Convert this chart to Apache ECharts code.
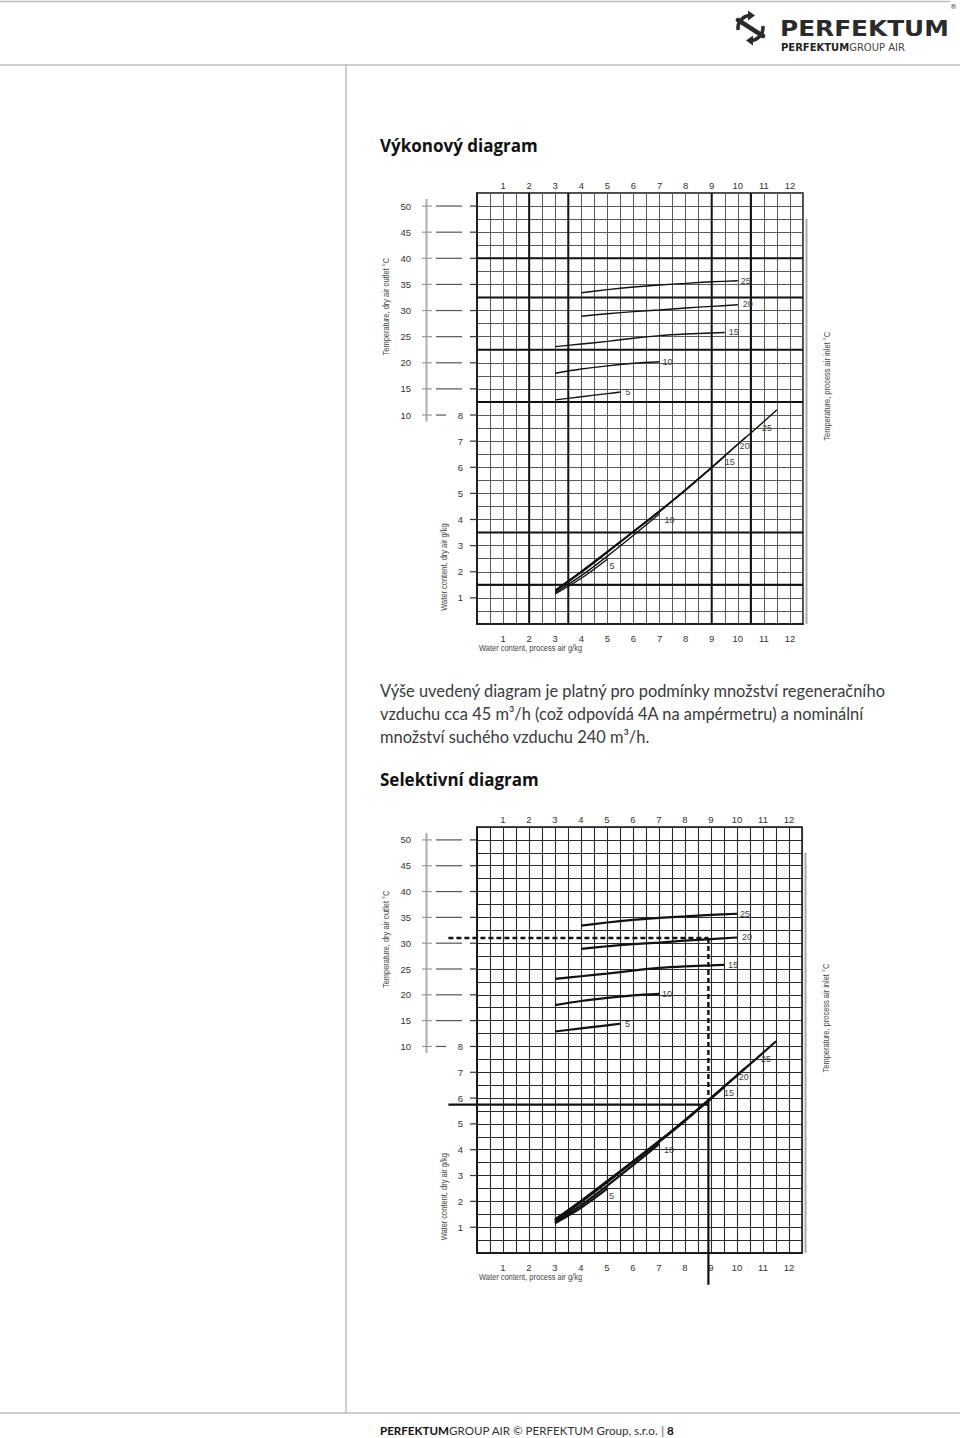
<!DOCTYPE html>
<html><head><meta charset="utf-8">
<style>html,body{margin:0;padding:0;background:#fff}#c{width:960px;height:1438px}</style>
<script src="https://cdn.jsdelivr.net/npm/echarts@6/dist/echarts.min.js"></script>
</head><body><div id="c"></div>
<script>
// ---------------- DATA ----------------
const processWaterTicks = [1,2,3,4,5,6,7,8,9,10,11,12];      // g/kg process air (x axis)
const outletTempTicks   = [10,15,20,25,30,35,40,45,50];        // °C dry air outlet (upper part)
const dryWaterTicks     = [1,2,3,4,5,6,7,8];                   // g/kg dry air (lower part)
const inletTemps        = [5,10,15,20,25];                      // °C process air inlet (curve labels)

// dry-air outlet temperature (°C) vs process-air water content (g/kg)
const outlet5  = [[3,12.9],[4,13.5],[5,14.1],[5.5,14.4]];
const outlet10 = [[3,18.0],[4,18.8],[5,19.4],[6,19.9],[7,20.2]];
const outlet15 = [[3,23.1],[4,23.6],[5,24.1],[6,24.7],[7,25.2],[8,25.5],[9,25.7],[9.5,25.8]];
const outlet20 = [[4,28.9],[5,29.4],[6,29.8],[7,30.1],[8,30.5],[9,30.8],[10,31.1]];
const outlet25 = [[4,33.4],[5,34.0],[6,34.5],[7,34.9],[8,35.2],[9,35.5],[10,35.7]];

// dry-air water content (g/kg) vs process-air water content (g/kg)
const dry5  = [[3,1.15],[4,1.75],[5,2.48]];
const dry10 = [[3,1.2],[4,1.85],[5,2.6],[6,3.4],[7,4.22]];
const dry15 = [[3,1.25],[4,1.97],[5,2.74],[6,3.52],[7,4.3],[8,5.12],[9,5.98],[9.5,6.42]];
const dry20 = [[3,1.28],[4,2.0],[5,2.76],[6,3.54],[7,4.32],[8,5.14],[9,6.0],[10,6.88],[10.3,7.15]];
const dry25 = [[3,1.3],[4,2.02],[5,2.78],[6,3.55],[7,4.33],[8,5.15],[9,6.0],[10,6.88],[11,7.75],[11.5,8.2]];

// worked example in "Selektivní diagram"
const selProcessWater  = 8.9;   // g/kg
const selOutletTemp    = 31;    // °C
const selDryWater      = 5.75;  // g/kg
const selCurveDryWater = 5.92;  // g/kg (where the reading meets the curve)
const selLineStartX    = -1.1;  // reading lines extend into the label column
const selLineEndU      = -1.23; // vertical reading line extends below the axis

// --------------- LAYOUT / STYLE ---------------
const outletSeries = [outlet5, outlet10, outlet15, outlet20, outlet25];
const drySeries    = [dry5, dry10, dry15, dry20, dry25];
const outletLabelOffset = [[0,0],[-2,0],[-1,0],[0,-1],[-2,0]];
const dryLabelOffset    = [[-3,7],[0,6],[-5,6],[-11,9],[-20,18]];
const majorX = [2,3.5,9,10.5];
const majorY = [1.5,3.5,8.5,10.5,12.5,14];
const uT = T => 8 + (T - 10) / 5;   // temperature mapped onto the shared vertical scale
const FONT = "'Liberation Sans',sans-serif";
const grids = [
  {left:477, top:193, width:326, height:431, heavy:false},
  {left:477, top:827, width:325, height:426, heavy:true}
];

const option = {animation:false, backgroundColor:'#fff',
  grid:[], xAxis:[], yAxis:[], series:[], graphic:[]};

grids.forEach((g, gi) => {
  const gridColor = g.heavy ? '#2a2a2a' : '#5a5a5a';
  const gridW = g.heavy ? 1.1 : 1;
  option.grid.push({left:g.left, top:g.top, width:g.width, height:g.height, show:true, borderColor:'#111', borderWidth:1.5, backgroundColor:'transparent'});
  const lab = {color:'#333', fontSize:9.5, fontFamily:FONT};
  option.xAxis.push({gridIndex:gi, type:'value', min:0, max:12.5, interval:0.5, position:'bottom',
    axisLine:{show:true, onZero:false, lineStyle:{color:'#111', width:1.5}}, axisTick:{show:false},
    splitLine:{show:true, lineStyle:{color:gridColor, width:gridW}},
    axisLabel:Object.assign({margin:9, formatter:v => processWaterTicks.includes(v) ? String(v) : ''}, lab)});
  option.xAxis.push({gridIndex:gi, type:'value', min:0, max:12.5, interval:0.5, position:'top',
    axisLine:{show:false}, axisTick:{show:false}, splitLine:{show:false},
    axisLabel:Object.assign({margin:3, formatter:v => processWaterTicks.includes(v) ? String(v) : ''}, lab)});
  option.yAxis.push({gridIndex:gi, type:'value', min:0, max:16.5, interval:0.5, position:'left',
    axisLine:{show:true, onZero:false, lineStyle:{color:'#111', width:1.5}}, axisTick:{show:false},
    splitLine:{show:true, lineStyle:{color:gridColor, width:gridW}},
    axisLabel:Object.assign({margin:14, formatter:v => dryWaterTicks.includes(v) ? String(v) : ''}, lab)});
  option.yAxis.push({gridIndex:gi, type:'value', min:0, max:16.5, interval:0.5, position:'left',
    axisLine:{show:false}, axisTick:{show:false}, splitLine:{show:false},
    axisLabel:Object.assign({margin:66, formatter:v => {
      if (v < 8 || !Number.isInteger(v)) return '';
      const T = 10 + (v - 8) * 5; return outletTempTicks.includes(T) ? String(T) : '';}}, lab)});

  const xi = gi * 2, yi = gi * 2;
  // decorations: heavy grid lines, left tick dashes, side rules, axis titles, worked-example reading lines
  option.series.push({type:'custom', xAxisIndex:xi, yAxisIndex:yi, silent:true, clip:false, z:1,
    data:[[0,0]],
    renderItem:(params, api) => {
      const P = (x,u) => api.coord([x,u]);
      const ch = [];
      const ln = (x1,y1,x2,y2,stroke,w,dash) => ch.push({type:'line', shape:{x1,y1,x2,y2},
        style:{stroke, lineWidth:w, lineDash:dash || null}});
      const L = P(0,0)[0], R = P(12.5,0)[0], B = P(0,0)[1], Tp = P(0,16.5)[1];
      if (!g.heavy) {
        majorX.forEach(x => { const a = P(x,0)[0]; ln(a,B,a,Tp,'#111',2); });
        majorY.forEach(u => { const y = P(0,u)[1]; ln(L,y,R,y,'#111',2); });
      }
      const vx = L - 50.5;
      ln(vx, P(0,16.27)[1], vx, P(0,7.75)[1], '#aaa', 2);
      outletTempTicks.forEach(T => {
        const y = P(0,uT(T))[1];
        ln(L-55, y, L-45, y, '#999', 1.2);
        ln(L-41, y, T === 10 ? L-31 : L-15, y, '#555', 1.2);
      });
      for (let u = 1; u <= 16; u++) { const y = P(0,u)[1]; ln(L-7, y, L, y, '#333', 1.2); }
      ln(R+3.5, P(0,15.5)[1], R+3.5, B, '#aaa', 2);
      const txt = (s, x, y, rot, align) => ch.push({type:'text', x, y, rotation:rot, scaleX:0.83,
        style:{text:s, x:0, y:0, fill:'#444', font:'9px ' + FONT, align:align || 'center', verticalAlign:'middle',
               textAlign:align || 'center', textVerticalAlign:'middle'}});
      txt('Temperature, dry air outlet °C', L-90.5, P(0,12.15)[1], Math.PI/2);
      txt('Water content, dry air g/kg', L-32.5, P(0,2.18)[1], Math.PI/2);
      txt('Temperature, process air inlet °C', R+24, P(0,9.1)[1], Math.PI/2);
      txt('Water content, process air g/kg', L+2, B+24, 0, 'left');
      if (g.heavy) {
        const a = P(selLineStartX, uT(selOutletTemp)), b = P(selProcessWater, uT(selOutletTemp)),
              c = P(selProcessWater, selCurveDryWater), d = P(selProcessWater, selLineEndU),
              e = P(selLineStartX, selDryWater), f = P(selProcessWater, selDryWater);
        ln(a[0],a[1],b[0],b[1],'#111',2.4,[5,3]);
        ln(b[0],b[1],c[0],c[1],'#111',2.4,[5,3]);
        ln(c[0],c[1],d[0],d[1],'#111',2.2);
        ln(e[0],e[1],f[0],f[1],'#111',2.2);
      }
      return {type:'group', children:ch};
    }});

  const lw = g.heavy ? 2.2 : 1.4;
  outletSeries.forEach((d, k) => option.series.push({type:'line', xAxisIndex:xi, yAxisIndex:yi,
    data:d.map(p => [p[0], uT(p[1])]), smooth:0.3, symbol:'none', silent:true,
    lineStyle:{color:'#111', width:lw},
    endLabel:{show:true, formatter:String(inletTemps[k]), distance:5, offset:outletLabelOffset[k],
      color:'#444', fontSize:9, fontFamily:FONT}}));
  drySeries.forEach((d, k) => option.series.push({type:'line', xAxisIndex:xi, yAxisIndex:yi,
    data:d, smooth:0.3, symbol:'none', silent:true,
    lineStyle:{color:'#111', width:lw},
    endLabel:{show:true, formatter:String(inletTemps[k]), distance:5, offset:dryLabelOffset[k],
      color:'#444', fontSize:9, fontFamily:FONT}}));
});

// ---------------- PAGE FURNITURE ----------------
const rule = (x1,y1,x2,y2) => ({type:'line', shape:{x1,y1,x2,y2}, style:{stroke:'#bdbdbd', lineWidth:1.5}, silent:true});
const T = (text, x, y, font, fill, extra, props) => Object.assign({type:'text', x, y, silent:true,
  style:Object.assign({text, font, fill, align:'left', verticalAlign:'middle', textAlign:'left', textVerticalAlign:'middle'}, extra || {})}, props || {});
const bodyFont = "16.4px Lato, 'Open Sans', sans-serif";
const ink = '#2b2b2b';
option.graphic = [
  rule(0,1.5,950,1.5), rule(0,65,960,65), rule(346,65,346,1413), rule(0,1413,960,1413),
  // logo icon: two circular arrows around a diagonal bar
  {type:'arc', shape:{cx:750.5, cy:28, r:12.5, startAngle:Math.PI*0.95, endAngle:Math.PI*1.55}, style:{stroke:ink, lineWidth:3.5, fill:null}, silent:true},
  {type:'arc', shape:{cx:750.5, cy:28, r:12.5, startAngle:Math.PI*-0.05, endAngle:Math.PI*0.55}, style:{stroke:ink, lineWidth:3.5, fill:null}, silent:true},
  {type:'line', shape:{x1:738, y1:20, x2:763, y2:36}, style:{stroke:ink, lineWidth:4.5, lineCap:'round'}, silent:true},
  {type:'polygon', shape:{points:[[748,10.5],[755,15.5],[748,20.5]]}, style:{fill:ink}, silent:true},
  {type:'polygon', shape:{points:[[753,35.5],[746,40.5],[753,45.5]]}, style:{fill:ink}, silent:true},
  T('PERFEKTUM', 780, 29, "bold 21px 'DejaVu Sans', sans-serif", ink, null, {scaleX:1.18, originX:0, originY:0}),
  T('®', 950, 7, "7px 'DejaVu Sans', sans-serif", '#444'),
  T('{b|PERFEKTUM}{r|GROUP AIR}', 781, 47, "10px 'DejaVu Sans', sans-serif", '#333',
    {rich:{b:{fontWeight:'bold', fontSize:10, fontFamily:'DejaVu Sans', fill:'#222'}, r:{fontSize:10, fontFamily:'DejaVu Sans', fill:'#444'}}}),
  // headings and text
  T('Výkonový diagram', 380, 145, "bold 17px 'Open Sans', sans-serif", '#111'),
  T('Výše uvedený diagram je platný pro podmínky množství regeneračního', 380, 690, bodyFont, '#3a3a3a'),
  T('vzduchu cca 45 m³/h (což odpovídá 4A na ampérmetru) a nominální', 380, 713, bodyFont, '#3a3a3a'),
  T('množství suchého vzduchu 240 m³/h.', 380, 736, bodyFont, '#3a3a3a'),
  T('Selektivní diagram', 380, 779, "bold 17px 'Open Sans', sans-serif", '#111'),
  // footer
  T('{b|PERFEKTUM}{r|GROUP AIR © PERFEKTUM Group, s.r.o. }{s||}{b| 8}', 380, 1430, "11.6px Lato, sans-serif", '#222',
    {rich:{b:{fontWeight:'bold', fontSize:11.6, fontFamily:'Lato', fill:'#111'},
           r:{fontSize:11.6, fontFamily:'Lato', fill:'#333'},
           s:{fontSize:11.6, fontFamily:'Lato', fill:'#555'}}})
];

const chart = echarts.init(document.getElementById('c'), null, {renderer:'svg', width:960, height:1438});
chart.setOption(option);
</script></body></html>
